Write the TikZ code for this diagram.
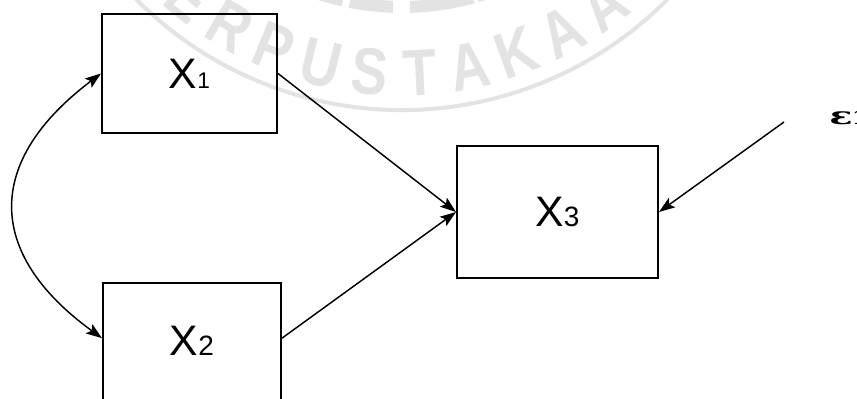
\documentclass[tikz,border=0pt]{standalone}
\usepackage{fontspec}
\setmainfont{Liberation Sans}
\newfontfamily\epsfont{DejaVu Serif}
\usetikzlibrary{arrows.meta}
% digit set on the baseline in a smaller size
\newcommand\digitsub[2]{{\fontsize{#1}{#1}\selectfont #2}}
\begin{document}
\begin{tikzpicture}[x=0.75pt,y=0.75pt,
  varbox/.style={draw, line width=1.5pt, inner sep=0pt, font=\fontsize{32}{32}\selectfont},
  link/.style={line width=1.1pt, -{Stealth[length=12pt,width=8.5pt,inset=2.5pt]}},
  twoway/.style={line width=1.1pt, {Stealth[length=12pt,width=8.5pt,inset=2.5pt]}-{Stealth[length=12pt,width=8.5pt,inset=2.5pt]}},
  wmletter/.style={text=black!11, font=\bfseries\fontsize{38}{38}\selectfont, inner sep=0pt},
  wmring/.style={draw=black!11, line width=3pt}
]
\fill[white] (0,0) rectangle (857,-399);
\useasboundingbox (0,0) rectangle (857,-399);

% faint library stamp behind the diagram
\coordinate (wc) at (402,264);
\draw[wmring] ([shift={(200:374)}]wc) arc[start angle=200,end angle=340,radius=374];
\foreach \a/\b in {245/257.4, 258.9/268.1, 271.7/285.2, 286.1/298}
  \draw[black!11, line width=9pt] ([shift={(\a:271)}]wc) arc[start angle=\a,end angle=\b,radius=271];
\foreach \l [count=\i from 1] in {E,R,P,U,S,T,A,K,A,A} {
  \pgfmathsetmacro\tilt{8.44*\i-47.6}
  \node[wmletter, rotate=\tilt] (wm\i) at ([shift={(270+\tilt:337)}]wc) {\scalebox{1.08}[1.3]{\l}};
}

% variables
\node[varbox, minimum width=131.25pt, minimum height=89.25pt] (x1) at (189.5,-73.5) {X\digitsub{17}{1}};
\node[varbox, minimum width=133.5pt, minimum height=90.75pt] (x2) at (192,-343.5) {\raisebox{3.4pt}{X\digitsub{21}{2}}};
\node[varbox, minimum width=150.75pt, minimum height=99pt] (x3) at (557.5,-212) {X\digitsub{21}{3}};

% error term
\node[anchor=base west, inner sep=0pt, font=\epsfont\bfseries\fontsize{18}{18}\selectfont] (eps) at (829,-125) {\scalebox{1.6}[1]{ε}{\fontsize{14}{14}\selectfont 1}};
\coordinate (e0) at (784,-122);

% paths
\draw[link] (x1.east) -- (x3.west);
\draw[link] ([yshift=4pt]x2.east) -- (x3.west);
\draw[link] (e0) -- (x3.east);
\draw[twoway] (x1.west) to[out=217,in=144,looseness=1.4] ([yshift=4pt]x2.west);
\end{tikzpicture}
\end{document}
